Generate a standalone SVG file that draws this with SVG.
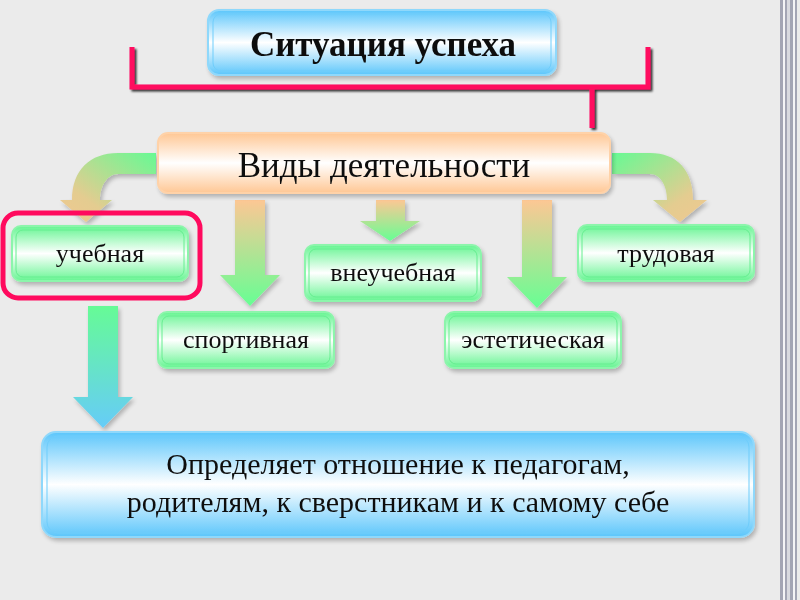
<svg xmlns="http://www.w3.org/2000/svg" width="800" height="600" viewBox="0 0 800 600">
<defs>
<style>
.t{font-family:"Liberation Serif","Times New Roman",serif;fill:#111;text-anchor:middle}
.g rect.o{fill:url(#gGreen);stroke:#8cf5ab;stroke-width:2}
.g rect.i{fill:none;stroke:#66ee90;stroke-width:1}
.g text{font-size:26px}
.pink{fill:none;stroke:#ff0a5e;stroke-width:5}
</style>
<linearGradient id="gBlue" x1="0" y1="0" x2="0" y2="1">
<stop offset="0" stop-color="#5cc6fb"/><stop offset="0.5" stop-color="#ffffff"/><stop offset="1" stop-color="#5cc6fb"/>
</linearGradient>
<linearGradient id="gOrange" x1="0" y1="0" x2="0" y2="1">
<stop offset="0" stop-color="#ffc794"/><stop offset="0.5" stop-color="#ffffff"/><stop offset="1" stop-color="#ffc794"/>
</linearGradient>
<linearGradient id="gGreen" x1="0" y1="0" x2="0" y2="1">
<stop offset="0" stop-color="#66f592"/><stop offset="0.5" stop-color="#ffffff"/><stop offset="1" stop-color="#66f592"/>
</linearGradient>
<linearGradient id="aOG" x1="0" y1="0" x2="0" y2="1">
<stop offset="0" stop-color="#fdc794"/><stop offset="1" stop-color="#66ff94"/>
</linearGradient>
<linearGradient id="aGB" x1="0" y1="0" x2="0" y2="1">
<stop offset="0" stop-color="#66fb96"/><stop offset="1" stop-color="#66ccf8"/>
</linearGradient>
<linearGradient id="aL" x1="1" y1="0" x2="0" y2="1">
<stop offset="0" stop-color="#66fa94"/><stop offset="0.7" stop-color="#e4cc90"/><stop offset="1" stop-color="#f0c890"/>
</linearGradient>
<linearGradient id="aR" x1="0" y1="0" x2="1" y2="1">
<stop offset="0" stop-color="#66fa94"/><stop offset="0.7" stop-color="#e4cc90"/><stop offset="1" stop-color="#f0c890"/>
</linearGradient>
<filter id="sh" x="-10%" y="-20%" width="125%" height="150%">
<feGaussianBlur in="SourceAlpha" stdDeviation="2"/><feOffset dx="2" dy="3" result="b"/>
<feComponentTransfer><feFuncA type="linear" slope="0.25"/></feComponentTransfer>
<feMerge><feMergeNode/><feMergeNode in="SourceGraphic"/></feMerge>
</filter>
<filter id="shd" x="-10%" y="-20%" width="125%" height="150%">
<feGaussianBlur in="SourceAlpha" stdDeviation="1"/><feOffset dx="2" dy="2" result="b"/>
<feComponentTransfer><feFuncA type="linear" slope="0.8"/></feComponentTransfer>
<feMerge><feMergeNode/><feMergeNode in="SourceGraphic"/></feMerge>
</filter>
</defs>
<rect width="800" height="600" fill="#ebebeb"/>
<g id="border">
<rect x="780" y="0" width="3" height="600" fill="#a3a5b4"/>
<rect x="783" y="0" width="2" height="600" fill="#f4f4f6"/>
<rect x="785" y="0" width="2" height="600" fill="#a3a5b4"/>
<rect x="787" y="0" width="3" height="600" fill="#d8d9df"/>
<rect x="790" y="0" width="3" height="600" fill="#a3a5b4"/>
<rect x="793" y="0" width="2" height="600" fill="#f4f4f6"/>
<rect x="795" y="0" width="2" height="600" fill="#a3a5b4"/>
</g>
<g id="connectors">
<path class="pink" filter="url(#shd)" d="M132,47 V87 H648 V47 M592,87 V128"/>
<path filter="url(#sh)" fill="url(#aL)" d="M156,153 H118 C90,153 72,170 72,200 H60 L86,222 L112,200 H100 C100,185 108,174 118,174 H156 Z"/>
<path filter="url(#sh)" fill="url(#aR)" d="M612,153 H650 C677,153 693,170 693,200 H707 L680,222 L653,200 H667 C667,185 660,174 650,174 H612 Z"/>
<path filter="url(#sh)" fill="url(#aOG)" d="M235,200 H265 V275 H280 L250,306 L220,275 H235 Z"/>
<path filter="url(#sh)" fill="url(#aOG)" d="M376,200 H405 V221 H420 L390,241 L360,221 H376 Z"/>
<path filter="url(#sh)" fill="url(#aOG)" d="M522,200 H552 V277 H567 L537,308 L507,277 H522 Z"/>
<path filter="url(#sh)" fill="url(#aGB)" d="M88,306 H118 V397 H133 L103,428 L73,397 H88 Z"/>
</g>
<g id="n-title" filter="url(#sh)">
<rect x="208" y="10" width="348" height="65" rx="11" fill="url(#gBlue)" stroke="#8fd8fb" stroke-width="2"/>
<rect x="213" y="14" width="338" height="57" rx="8" fill="none" stroke="#6fcdfb" stroke-width="1"/>
<text class="t" x="383" y="56" font-size="35" font-weight="bold">Ситуация успеха</text>
</g>
<g id="n-vidy" filter="url(#sh)">
<rect x="158" y="133" width="452" height="60" rx="10" fill="url(#gOrange)" stroke="#ffd2a8" stroke-width="2"/>
<text class="t" x="384" y="177" font-size="35">Виды деятельности</text>
</g>
<g id="n-uchebnaya" class="g" filter="url(#sh)">
<rect class="o" x="12" y="226" width="176" height="55" rx="9"/>
<rect class="i" x="16" y="230" width="168" height="47" rx="7"/>
<text class="t" x="100" y="262">учебная</text>
</g>
<rect id="highlight" x="3" y="213" width="197" height="85" rx="15" class="pink"/>
<g id="n-sport" class="g" filter="url(#sh)">
<rect class="o" x="158" y="312" width="176" height="56" rx="9"/>
<rect class="i" x="162" y="316" width="168" height="48" rx="7"/>
<text class="t" x="246" y="348">спортивная</text>
</g>
<g id="n-vneucheb" class="g" filter="url(#sh)">
<rect class="o" x="305" y="245" width="176" height="56" rx="9"/>
<rect class="i" x="309" y="249" width="168" height="48" rx="7"/>
<text class="t" x="393" y="281">внеучебная</text>
</g>
<g id="n-estet" class="g" filter="url(#sh)">
<rect class="o" x="445" y="312" width="176" height="56" rx="9"/>
<rect class="i" x="449" y="316" width="168" height="48" rx="7"/>
<text class="t" x="533" y="348">эстетическая</text>
</g>
<g id="n-trud" class="g" filter="url(#sh)">
<rect class="o" x="578" y="225" width="176" height="56" rx="9"/>
<rect class="i" x="582" y="229" width="168" height="48" rx="7"/>
<text class="t" x="666" y="262">трудовая</text>
</g>
<g id="n-result" filter="url(#sh)">
<rect x="42" y="432" width="712" height="105" rx="14" fill="url(#gBlue)" stroke="#8fd8fb" stroke-width="2"/>
<rect x="47" y="436" width="702" height="97" rx="11" fill="none" stroke="#6fcdfb" stroke-width="1"/>
<text class="t" x="398" y="474" font-size="30">Определяет отношение к педагогам,</text>
<text class="t" x="398" y="512" font-size="30">родителям, к сверстникам и к самому себе</text>
</g>
</svg>
